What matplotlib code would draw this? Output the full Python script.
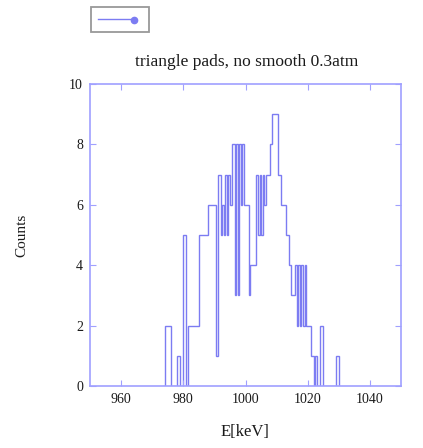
import numpy as np
import matplotlib
matplotlib.use("Agg")
import matplotlib.pyplot as plt
from matplotlib.lines import Line2D
from matplotlib.patches import Rectangle

# Energy histogram, 0.5 keV bins starting at 973.5 keV
bin_start = 973.5
bin_width = 0.5
counts = [
    0,                              # 973.5 - 974.0
    2, 2, 2, 2,                     # 974.0 - 976.0
    0, 0, 0, 0,                     # 976.0 - 978.0
    1, 1,                           # 978.0 - 979.0
    0, 0,                           # 979.0 - 980.0
    5, 5, 0,                        # 980.0 - 981.5
    2, 2, 2, 2, 2, 2, 2,            # 981.5 - 985.0
    5, 5, 5, 5, 5, 5,               # 985.0 - 988.0
    6, 6, 6, 6, 6,                  # 988.0 - 990.5
    1,                              # 990.5 - 991.0
    7, 7,                           # 991.0 - 992.0
    5, 6, 5, 7, 5, 7, 6,            # 992.0 - 995.5
    8, 8, 3, 8, 3, 8, 6, 8, 6,      # 995.5 - 1000.0
    6, 6, 3,                        # 1000.0 - 1001.5
    4, 4, 4, 4,                     # 1001.5 - 1003.5
    7, 5, 7, 5, 7, 6,               # 1003.5 - 1006.5
    7, 7, 7,                        # 1006.5 - 1008.0
    8, 9, 9, 9, 9,                  # 1008.0 - 1010.5
    7, 7,                           # 1010.5 - 1011.5
    6, 6, 6,                        # 1011.5 - 1013.0
    5, 5,                           # 1013.0 - 1014.0
    4,                              # 1014.0 - 1014.5
    3, 3, 3,                        # 1014.5 - 1016.0
    4, 2, 4, 2, 4, 2, 4,            # 1016.0 - 1019.5
    2, 2, 2,                        # 1019.5 - 1021.0
    1, 1,                           # 1021.0 - 1022.0
    0, 1, 0, 0,                     # 1022.0 - 1024.0
    2, 2,                           # 1024.0 - 1025.0
    0, 0, 0, 0, 0, 0, 0, 0,         # 1025.0 - 1029.0
    1, 1,                           # 1029.0 - 1030.0
    0,                              # 1030.0 - 1030.5
]

x_ticks = [960, 980, 1000, 1020, 1040]
y_ticks = [0, 2, 4, 6, 8, 10]
title = "triangle pads, no smooth 0.3atm"

line_color = "#7c7cf2"
frame_color = "#a0a0ff"
text_color = "#1a1a1a"
serif = ["Liberation Serif", "DejaVu Serif"]

edges = bin_start + bin_width * np.arange(len(counts) + 1)

fig = plt.figure(figsize=(4.23, 4.48), dpi=100)
ax = fig.add_axes([0.2128, 0.1384, 0.7352, 0.6741])

ax.stairs(counts, edges, color=line_color, linewidth=1.0, baseline=None)

ax.set_xlim(950, 1050)
ax.set_ylim(0, 10)
ax.set_xticks(x_ticks)
ax.set_yticks(y_ticks)
ax.tick_params(direction="in", top=True, right=True, length=4, width=0.8,
               color=frame_color, labelsize=10, pad=5, labelcolor=text_color)
for lab in ax.get_xticklabels() + ax.get_yticklabels():
    lab.set_family(serif)
for sp in ax.spines.values():
    sp.set_color(frame_color)
    sp.set_linewidth(1.2)

fig.text(0.584, 0.862, title, ha="center", va="center", fontsize=12.5,
         family=serif, color=text_color)
fig.text(0.58, 0.036, "E[keV]", ha="center", va="center", fontsize=12,
         family=serif, color=text_color)
fig.text(0.052, 0.475, "Counts", ha="center", va="center", rotation=90,
         fontsize=11, family=serif, color=text_color)

# key box in the upper left
fig.patches.append(Rectangle((0.215, 0.928), 0.137, 0.057, transform=fig.transFigure,
                             facecolor="white", edgecolor="#999999", linewidth=1.3))
fig.lines.append(Line2D([0.232, 0.312], [0.957, 0.957], transform=fig.transFigure,
                        color=line_color, linewidth=1.0))
fig.lines.append(Line2D([0.316], [0.956], transform=fig.transFigure,
                        color=line_color, marker="o", markersize=4.5, linestyle="none"))

fig.savefig("out.png", dpi=100)
